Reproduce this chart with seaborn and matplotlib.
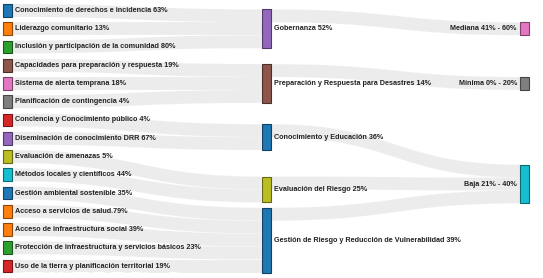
import numpy as np
import matplotlib.pyplot as plt
import seaborn as sns
from matplotlib.patches import Rectangle, Polygon
import matplotlib.colors as mcolors

sns.set_style("white")
plt.rcParams['font.family'] = ['Liberation Sans', 'DejaVu Sans']

# ---- datos ----
sub_componentes = ["Conocimiento de derechos e incidencia 63%",
                   "Liderazgo comunitario 13%",
                   "Inclusión y participación de la comunidad 80%",
                   "Capacidades para preparación y respuesta 19%",
                   "Sistema de alerta temprana 18%",
                   "Planificación de contingencia 4%",
                   "Conciencia y Conocimiento público 4%",
                   "Diseminación de conocimiento DRR 67%",
                   "Evaluación de amenazas 5%",
                   "Métodos locales y científicos 44%",
                   "Gestión ambiental sostenible 35%",
                   "Acceso a servicios de salud.79%",
                   "Acceso de infraestructura social 39%",
                   "Protección de infraestructura y servicios básicos 23%",
                   "Uso de la tierra y planificación territorial 19%"]
destino_sub = [0, 0, 0, 1, 1, 1, 2, 2, 3, 3, 4, 4, 4, 4, 4]
valor_sub = [1, 1, 1, 1, 1, 1, 1, 1, 1, 1, 1, 1, 1, 1, 1]

componentes = ["Gobernanza 52%",
               "Preparación y Respuesta para Desastres 14%",
               "Conocimiento y Educación 36%",
               "Evaluación del Riesgo 25%",
               "Gestión de Riesgo y Reducción de Vulnerabilidad 39%"]
destino_comp = [0, 1, 2, 2, 2]
valor_comp = [1, 1, 1, 1, 1]

niveles = ["Mediana 41% - 60%", "Mínima 0% - 20%", "Baja 21% - 40%"]

pal = dict(zip(["blue", "orange", "green", "red", "purple", "brown", "pink", "grey", "olive", "cyan"],
               sns.color_palette("tab10")))
col_sub = ["blue", "orange", "green", "brown", "pink", "grey", "red", "purple",
           "olive", "cyan", "blue", "orange", "orange", "green", "red"]
col_comp = ["purple", "brown", "blue", "olive", "blue"]
col_niv = ["pink", "grey", "cyan"]

# ---- nodos y enlaces ----
nodes = []
for i, n in enumerate(sub_componentes):
    nodes.append(dict(name=n, col=0, color=col_sub[i]))
for i, n in enumerate(componentes):
    nodes.append(dict(name=n, col=1, color=col_comp[i]))
for i, n in enumerate(niveles):
    nodes.append(dict(name=n, col=2, color=col_niv[i]))
n1 = len(sub_componentes)
n2 = n1 + len(componentes)
links = []
for i, (d, v) in enumerate(zip(destino_sub, valor_sub)):
    links.append(dict(s=i, t=n1 + d, v=v))
for i, (d, v) in enumerate(zip(destino_comp, valor_comp)):
    links.append(dict(s=n1 + i, t=n2 + d, v=v))

for k, nd in enumerate(nodes):
    vin = sum(l["v"] for l in links if l["t"] == k)
    vout = sum(l["v"] for l in links if l["s"] == k)
    nd["value"] = max(vin, vout)
    nd["src"] = [l for l in links if l["s"] == k]
    nd["tgt"] = [l for l in links if l["t"] == k]

# layout estilo d3-sankey
top, bottom = 4.0, 272.5
H = bottom - top
left, right, nw = 3.0, 529.0, 9.0
pad = 5.3
cols = [[nd for nd in nodes if nd["col"] == c] for c in range(3)]
ky = min((H - (len(c) - 1) * pad) / sum(nd["value"] for nd in c) for c in cols)
for c, colnodes in enumerate(cols):
    for i, nd in enumerate(colnodes):
        nd["y"] = float(i)
        nd["dy"] = nd["value"] * ky
        nd["x"] = left + c * (right - nw - left) / 2
for l in links:
    l["dy"] = l["v"] * ky

center = lambda nd: nd["y"] + nd["dy"] / 2


def resolve():
    for colnodes in cols:
        colnodes.sort(key=lambda nd: nd["y"])
        y0 = 0.0
        for nd in colnodes:
            d = y0 - nd["y"]
            if d > 0:
                nd["y"] += d
            y0 = nd["y"] + nd["dy"] + pad
        d = y0 - pad - H
        if d > 0:
            colnodes[-1]["y"] -= d
            y0 = colnodes[-1]["y"]
            for nd in reversed(colnodes[:-1]):
                d = nd["y"] + nd["dy"] + pad - y0
                if d > 0:
                    nd["y"] -= d
                y0 = nd["y"]


resolve()
alpha = 1.0
for it in range(32):
    alpha *= 0.99
    for colnodes in reversed(cols):
        for nd in colnodes:
            if nd["src"]:
                y = sum(center(nodes[l["t"]]) * l["v"] for l in nd["src"]) / sum(l["v"] for l in nd["src"])
                nd["y"] += (y - center(nd)) * alpha
    resolve()
    for colnodes in cols:
        for nd in colnodes:
            if nd["tgt"]:
                y = sum(center(nodes[l["s"]]) * l["v"] for l in nd["tgt"]) / sum(l["v"] for l in nd["tgt"])
                nd["y"] += (y - center(nd)) * alpha
    resolve()

for nd in nodes:
    nd["src"].sort(key=lambda l: nodes[l["t"]]["y"])
    nd["tgt"].sort(key=lambda l: nodes[l["s"]]["y"])
    sy = 0.0
    for l in nd["src"]:
        l["sy"] = sy
        sy += l["dy"]
    ty = 0.0
    for l in nd["tgt"]:
        l["ty"] = ty
        ty += l["dy"]

# ---- dibujo ----
fig = plt.figure(figsize=(5.43, 2.78), dpi=100)
ax = fig.add_axes([0, 0, 1, 1])
ax.set_xlim(0, 543)
ax.set_ylim(278, 0)
ax.axis("off")

t = np.linspace(0, 1, 60)
for l in links:
    s, g = nodes[l["s"]], nodes[l["t"]]
    x0, x1 = s["x"] + nw, g["x"]
    xa, xb = x0 + (x1 - x0) * 0.5, x1 - (x1 - x0) * 0.5
    ya = top + s["y"] + l["sy"]
    yb = top + g["y"] + l["ty"]
    bx = (1 - t) ** 3 * x0 + 3 * (1 - t) ** 2 * t * xa + 3 * (1 - t) * t ** 2 * xb + t ** 3 * x1
    by = (1 - t) ** 3 * ya + 3 * (1 - t) ** 2 * t * ya + 3 * (1 - t) * t ** 2 * yb + t ** 3 * yb
    pts = np.vstack([np.column_stack([bx, by]), np.column_stack([bx[::-1], by[::-1] + l["dy"]])])
    ax.add_patch(Polygon(pts, closed=True, facecolor="#d4d4d4", alpha=0.42,
                         edgecolor="white", linewidth=0.3))

for nd in nodes:
    c = pal[nd["color"]]
    edge = tuple(v * 0.55 for v in mcolors.to_rgb(c))
    ax.add_patch(Rectangle((nd["x"], top + nd["y"]), nw, nd["dy"], facecolor=c,
                           edgecolor=edge, linewidth=0.8))
    yc = top + center(nd)
    if nd["col"] < 2:
        ax.text(nd["x"] + nw + 3, yc, nd["name"], ha="left", va="center",
                fontsize=5.2, color="#222222", fontweight="semibold")
    else:
        ax.text(nd["x"] - 3, yc, nd["name"], ha="right", va="center",
                fontsize=5.2, color="#222222", fontweight="semibold")

fig.savefig("out.png", dpi=100)
